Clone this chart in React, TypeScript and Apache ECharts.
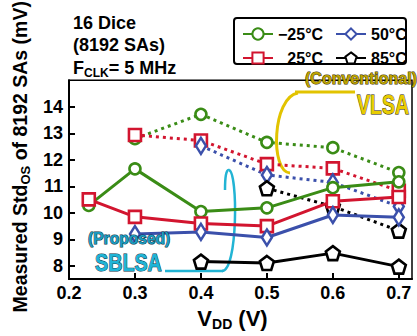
import React, { useEffect, useRef } from 'react';
import * as echarts from 'echarts';

const FONT = "'Liberation Sans', Arial, sans-serif";

// x values (VDD, V)
const vdd = [0.23, 0.3, 0.4, 0.5, 0.6, 0.7];
// SBLSA (proposed) – solid lines
const sbM25 = [10.28, 11.66, 10.05, 10.19, 10.95, 11.17];
const sb25 = [10.51, 9.85, 9.6, 9.5, 10.44, 10.6];
const sb50 = [null, 9.2, 9.28, 9.07, 9.92, 9.83];
const sb85 = [null, null, 8.16, 8.11, 8.48, 7.97];
// VLSA (conventional) – dotted lines
const vlM25 = [null, 12.8, 13.72, 12.66, 12.46, 11.52];
const vl25 = [null, 12.94, 12.73, 11.84, 11.68, 10.83];
const vl50 = [null, null, 12.53, 11.43, 11.15, 10.24];
const vl85 = [null, null, null, 10.93, 10.24, 9.33];

const xTicks = [0.2, 0.3, 0.4, 0.5, 0.6, 0.7];
const yTicks = [8, 9, 10, 11, 12, 13, 14];

const legendNames = ['−25°C', '25°C', '50°C', '85°C'];

const GREEN = '#3a8c16';
const RED = '#d2152f';
const BLUE = '#3b50ab';
const BLACK = '#000000';
const PENTAGON = 'path://M50,0 L97.55,34.55 L79.39,90.45 L20.61,90.45 L2.45,34.55 Z';

function pairs(vals: (number | null)[]) {
  const out: number[][] = [];
  vals.forEach((v, i) => {
    if (v !== null) out.push([vdd[i], v]);
  });
  return out;
}

function mk(name: string, vals: (number | null)[], color: string, symbol: string, size: any, dotted: boolean) {
  return {
    type: 'line',
    name,
    data: pairs(vals),
    symbol,
    symbolSize: size,
    lineStyle: { color, width: 3, type: dotted ? [3, 4] : 'solid' },
    itemStyle: { color: '#ffffff', borderColor: color, borderWidth: 2.6 },
    z: dotted ? 2 : 3,
  };
}

function label(text: string, x: number, y: number, size: number, fill: string, stroke?: string, scaleX = 1) {
  const style: any = {
    text,
    fontSize: size,
    fontWeight: 'bold',
    fontFamily: FONT,
    fill,
    align: 'left',
    verticalAlign: 'middle',
  };
  if (stroke) {
    style.stroke = stroke;
    style.lineWidth = 1;
  }
  return { type: 'text', x, y, scaleX, z: 20, style };
}

export default function App() {
  const ref = useRef<HTMLDivElement>(null);
  useEffect(() => {
    if (!ref.current) return;
    const chart = echarts.init(ref.current, undefined, { renderer: 'svg' });
    const txt = { fontFamily: FONT, fontWeight: 'bold', color: '#000' };
    const legendBase = {
      orient: 'vertical',
      top: 21,
      itemWidth: 30,
      itemHeight: 14,
      itemGap: 8,
      selectedMode: false,
      textStyle: { ...txt, fontSize: 16, rich: { p: { width: 9.3 }, t: { ...txt, fontSize: 16 } } },
      formatter: (n: string) => (n === '25°C' ? '{p|}{t|' + n + '}' : '{t|' + n + '}'),
      z: 10,
    };
    const option: any = {
      animation: false,
      grid: { left: 69, right: 5, top: 10, bottom: 53, show: true, borderColor: '#000', borderWidth: 1.5 },
      xAxis: {
        type: 'value',
        min: 0.2,
        max: 0.72,
        splitLine: { show: false },
        axisLine: { lineStyle: { color: '#000', width: 2 } },
        axisTick: { inside: true, length: 6, customValues: xTicks, lineStyle: { color: '#000', width: 2 } },
        axisLabel: { ...txt, fontSize: 18, margin: 5, customValues: xTicks, formatter: (v: number) => v.toFixed(1) },
        name: '{a|V}{s|DD}{a| (V)}',
        nameLocation: 'middle',
        nameGap: 21,
        nameTextStyle: {
          padding: [0, 16, 0, 0],
          rich: {
            a: { ...txt, fontSize: 22, lineHeight: 26 },
            s: { ...txt, fontSize: 14, lineHeight: 14, verticalAlign: 'bottom' },
          },
        },
      },
      yAxis: {
        type: 'value',
        min: 7.5,
        max: 15,
        splitLine: { show: false },
        axisLine: { lineStyle: { color: '#000', width: 2 } },
        axisTick: { inside: true, length: 6, customValues: yTicks, lineStyle: { color: '#000', width: 2 } },
        axisLabel: { ...txt, fontSize: 18, margin: 6, customValues: yTicks },
        name: '{a|Measured Std}{s|OS}{a| of 8192 SAs (mV)}',
        nameLocation: 'middle',
        nameGap: 35,
        nameTextStyle: {
          padding: [0, 0, 0, 46],
          rich: {
            a: { ...txt, fontSize: 19.5, lineHeight: 24 },
            s: { ...txt, fontSize: 13, lineHeight: 12, verticalAlign: 'bottom' },
          },
        },
      },
      legend: [
        { ...legendBase, left: 237, data: [legendNames[0], legendNames[1]] },
        { ...legendBase, left: 330, data: [legendNames[2], legendNames[3]] },
      ],
      graphic: [
        {
          type: 'rect',
          z: 5,
          shape: { x: 234, y: 18, width: 172, height: 46, r: 3 },
          style: { fill: '#fff', stroke: '#000', lineWidth: 2 },
        },
        label('16 Dice', 73, 23, 18, '#000'),
        label('(8192 SAs)', 73, 45, 18, '#000'),
        {
          type: 'text',
          x: 73,
          y: 68,
          z: 20,
          style: {
            text: '{a|F}{s|CLK}{a|= 5 MHz}',
            align: 'left',
            verticalAlign: 'middle',
            rich: {
              a: { fontFamily: FONT, fontWeight: 'bold', fontSize: 18, lineHeight: 22, fill: '#000' },
              s: { fontFamily: FONT, fontWeight: 'bold', fontSize: 12, lineHeight: 12, verticalAlign: 'bottom', fill: '#000' },
            },
          },
        },
        // Conventional VLSA annotation
        { type: 'line', shape: { x1: 295, y1: 92, x2: 355, y2: 92 }, style: { stroke: '#e2c300', lineWidth: 3 } },
        {
          type: 'bezierCurve',
          shape: { x1: 298, y1: 93, cpx1: 272, cpy1: 97, cpx2: 270, cpy2: 172, x2: 290, y2: 173 },
          style: { stroke: '#e2c300', lineWidth: 3, fill: 'none' },
        },
        label('(Conventional)', 305, 78, 16, '#bda300', '#3a3000'),
        label('VLSA', 357, 104, 28, '#e8cc00', '#262000', 0.7),
        // Proposed SBLSA annotation
        { type: 'line', shape: { x1: 165, y1: 271, x2: 223, y2: 271 }, style: { stroke: '#22b4d4', lineWidth: 2.5 } },
        {
          type: 'bezierCurve',
          shape: { x1: 222, y1: 271, cpx1: 238, cpy1: 271, cpx2: 238, cpy2: 172, x2: 229, y2: 170 },
          style: { stroke: '#22b4d4', lineWidth: 2.5, fill: 'none' },
        },
        {
          type: 'bezierCurve',
          shape: { x1: 229, y1: 170, cpx1: 226, cpy1: 169, cpx2: 225, cpy2: 178, x2: 225, y2: 190 },
          style: { stroke: '#22b4d4', lineWidth: 2.5, fill: 'none' },
        },
        label('(Proposed)', 88, 238, 15.6, '#1a9cc0', '#0b3040'),
        label('SBLSA', 95, 263, 23.5, '#1fb4d6', '#0a3040', 0.84),
      ],
      series: [
        mk('VLSA −25°C', vlM25, GREEN, 'circle', 11, true),
        mk('VLSA 25°C', vl25, RED, 'rect', 12, true),
        mk('VLSA 50°C', vl50, BLUE, 'diamond', [10, 16], true),
        mk('VLSA 85°C', vl85, BLACK, PENTAGON, 14, true),
        mk(legendNames[0], sbM25, GREEN, 'circle', 11, false),
        mk(legendNames[1], sb25, RED, 'rect', 12, false),
        mk(legendNames[2], sb50, BLUE, 'diamond', [10, 16], false),
        mk(legendNames[3], sb85, BLACK, PENTAGON, 14, false),
      ],
    };
    chart.setOption(option);
    return () => chart.dispose();
  }, []);
  return <div ref={ref} style={{ position: 'fixed', left: 0, top: 0, width: 417, height: 336, background: '#fff' }} />;
}
